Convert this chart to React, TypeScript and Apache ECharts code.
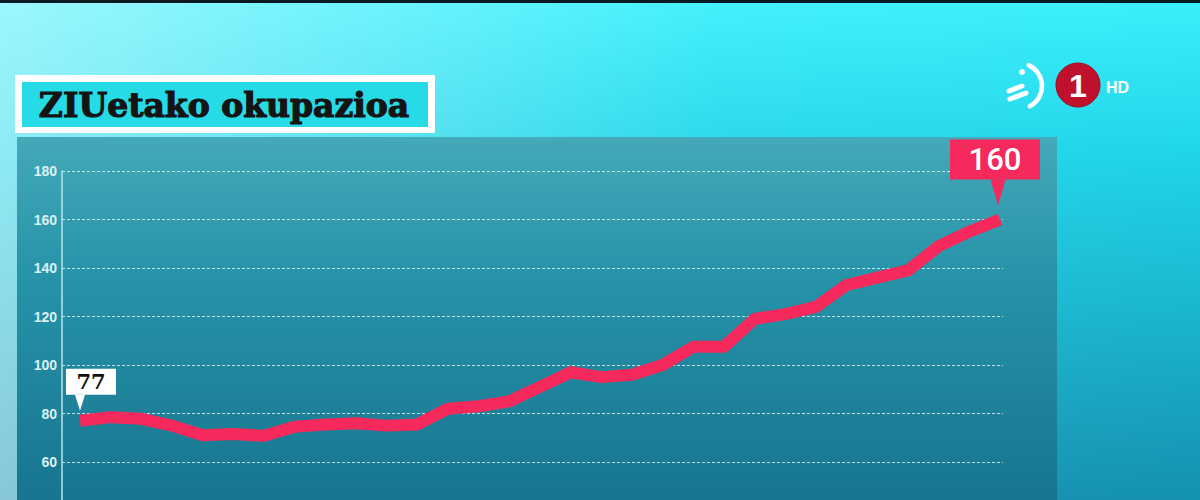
import React, { useEffect, useRef } from "react";
import * as echarts from "echarts";

const categories = [
  "1", "2", "3", "4", "5", "6", "7", "8", "9", "10",
  "11", "12", "13", "14", "15", "16", "17", "18", "19", "20",
  "21", "22", "23", "24", "25", "26", "27", "28", "29", "30", "31",
];
const occupancy = [
  77, 78.5, 77.8, 75, 71, 71.5, 70.8, 74.5, 75.5, 76,
  75, 75.5, 82, 83, 85, 91, 97, 95, 96, 100,
  107.5, 107.5, 119, 121, 124, 133, 136, 139, 149, 155, 160,
];
const yTicks = { min: 40, max: 180, interval: 20 };
const titleText = "ZIUetako okupazioa";

export default function App() {
  const ref = useRef<HTMLDivElement>(null);
  useEffect(() => {
    if (!ref.current) return;
    const chart = echarts.init(ref.current, null, { renderer: "svg" });
    const last = occupancy.length - 1;
    chart.setOption({
      animation: false,
      grid: [
        { left: 80, width: 920, top: 171, height: 339.5, outerBoundsMode: "none", containLabel: false },
        { left: 62, width: 941, top: 171, height: 339.5, outerBoundsMode: "none", containLabel: false },
      ],
      xAxis: [
        { type: "category", gridIndex: 0, data: categories, boundaryGap: false, show: false },
        { type: "value", gridIndex: 1, show: false, min: 0, max: 1 },
      ],
      yAxis: [
        { type: "value", gridIndex: 0, min: yTicks.min, max: yTicks.max, show: false },
        {
          type: "value",
          gridIndex: 1,
          min: yTicks.min,
          max: yTicks.max,
          interval: yTicks.interval,
          axisLine: { show: true, lineStyle: { color: "#b5e6ee", width: 1.5 } },
          axisTick: { show: false },
          axisLabel: {
            showMinLabel: false,
            color: "#dcf1f5",
            fontFamily: "Liberation Sans",
            fontWeight: "bold",
            fontSize: 14,
            margin: 5,
          },
          splitLine: {
            show: true,
            lineStyle: { color: "rgba(225,245,250,0.85)", width: 1, type: [3, 2] },
          },
        },
      ],
      graphic: [
        {
          type: "rect",
          z: -20,
          silent: true,
          shape: { x: 0, y: 0, width: 1200, height: 500 },
          style: {
            fill: new echarts.graphic.LinearGradient(0, 0, 0, 1, [
              { offset: 0, color: "#3af0fc" },
              { offset: 0.3, color: "#20d6ea" },
              { offset: 1, color: "#1490b0" },
            ]),
          },
        },
        {
          type: "rect",
          z: -19,
          silent: true,
          shape: { x: 0, y: 0, width: 1200, height: 500 },
          style: {
            fill: new echarts.graphic.LinearGradient(0, 0, 1, 0, [
              { offset: 0, color: "rgba(255,255,255,0.5)" },
              { offset: 0.6, color: "rgba(255,255,255,0.05)" },
              { offset: 1, color: "rgba(255,255,255,0)" },
            ]),
          },
        },
        {
          type: "rect",
          z: -18,
          silent: true,
          shape: { x: 0, y: 0, width: 1200, height: 3 },
          style: { fill: "#0a1a22" },
        },
        {
          type: "rect",
          z: -17,
          silent: true,
          shape: { x: 17, y: 137, width: 1040, height: 370 },
          style: {
            fill: new echarts.graphic.LinearGradient(0, 0, 0, 1, [
              { offset: 0, color: "#44a9b8" },
              { offset: 0.4, color: "#2592a8" },
              { offset: 1, color: "#17748e" },
            ]),
          },
        },
        {
          type: "rect",
          z: 50,
          shape: { x: 15, y: 75, width: 420, height: 58 },
          style: { fill: "#ffffff" },
        },
        {
          type: "rect",
          z: 51,
          shape: { x: 22, y: 82, width: 406, height: 45 },
          style: { fill: "#27dbe6" },
        },
        {
          type: "text",
          z: 52,
          x: 224,
          y: 105,
          style: {
            text: titleText,
            fill: "#141414",
            stroke: "#141414",
            lineWidth: 1.2,
            font: "bold 33px 'DejaVu Serif'",
            align: "center",
            verticalAlign: "middle",
          },
        },
        // logo swirl
        {
          type: "arc",
          z: 52,
          shape: { cx: 1019, cy: 86, r: 23, startAngle: (-65 * Math.PI) / 180, endAngle: (62 * Math.PI) / 180, clockwise: true },
          style: { stroke: "#ffffff", lineWidth: 4.5, fill: null, lineCap: "round" },
        },
        {
          type: "line",
          z: 52,
          shape: { x1: 1009, y1: 91, x2: 1022, y2: 86 },
          style: { stroke: "#ffffff", lineWidth: 5, lineCap: "round" },
        },
        {
          type: "line",
          z: 52,
          shape: { x1: 1010, y1: 99, x2: 1026, y2: 93 },
          style: { stroke: "#ffffff", lineWidth: 5, lineCap: "round" },
        },
        {
          type: "circle",
          z: 52,
          shape: { cx: 1022, cy: 72, r: 3 },
          style: { fill: "#ffffff" },
        },
        {
          type: "circle",
          z: 52,
          shape: { cx: 1078, cy: 85, r: 22 },
          style: { fill: "#c0112c", stroke: "#a00a20", lineWidth: 1 },
        },
        {
          type: "text",
          z: 53,
          x: 1078,
          y: 86,
          style: {
            text: "1",
            fill: "#ffffff",
            font: "bold 32px 'Liberation Sans'",
            align: "center",
            verticalAlign: "middle",
          },
        },
        {
          type: "text",
          z: 53,
          x: 1106,
          y: 87,
          style: {
            text: "HD",
            fill: "#ffffff",
            font: "bold 16px 'Liberation Sans'",
            align: "left",
            verticalAlign: "middle",
          },
        },
      ],
      series: [
        {
          type: "line",
          xAxisIndex: 0,
          yAxisIndex: 0,
          data: occupancy,
          symbol: "none",
          lineStyle: { color: "#f5295b", width: 12, join: "round" },
          z: 10,
          markPoint: {
            z: 20,
            data: [
              {
                coord: [categories[0], occupancy[0]],
                value: occupancy[0],
                symbol: "path://M0,0L10,0L5,16Z",
                symbolSize: [10, 16],
                symbolOffset: [0, -18],
                itemStyle: { color: "#ffffff" },
                label: {
                  show: true,
                  position: "top",
                  distance: 0,
                  offset: [11, 0],
                  formatter: String(occupancy[0]),
                  backgroundColor: "#ffffff",
                  width: 50,
                  height: 26,
                  lineHeight: 26,
                  align: "center",
                  color: "#111111",
                  fontFamily: "DejaVu Serif",
                  fontWeight: "bold",
                  fontSize: 21,
                },
              },
              {
                coord: [categories[last], occupancy[last]],
                value: occupancy[last],
                symbol: "path://M0,0L15,0L7.5,26Z",
                symbolSize: [15, 26],
                symbolOffset: [-2, -27],
                itemStyle: { color: "#f5295b" },
                label: {
                  show: true,
                  position: "top",
                  distance: 0,
                  offset: [-3, 0],
                  formatter: String(occupancy[last]),
                  backgroundColor: "#f5295b",
                  width: 90,
                  height: 40,
                  lineHeight: 40,
                  align: "center",
                  color: "#ffffff",
                  fontFamily: "Roboto",
                  fontWeight: 500,
                  fontSize: 31,
                },
              },
            ],
          },
        },
      ],
    });
    return () => chart.dispose();
  }, []);
  return (
    <div
      ref={ref}
      style={{ position: "absolute", left: 0, top: 0, width: 1200, height: 500 }}
    />
  );
}
